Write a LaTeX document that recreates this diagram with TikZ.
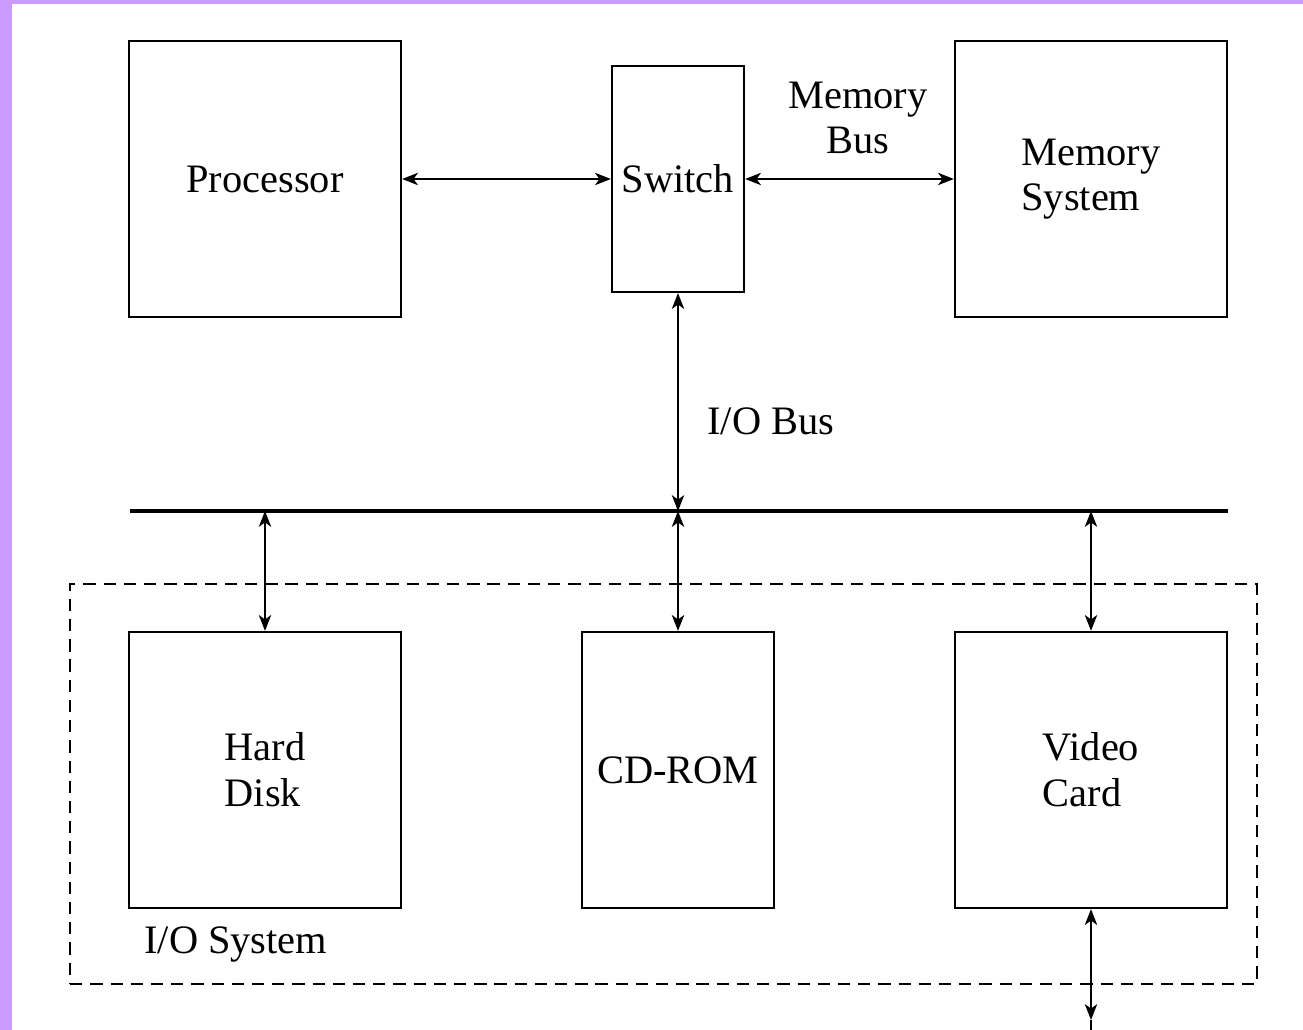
\documentclass[tikz,border=0pt]{standalone}
\usepackage{fontspec}
\setmainfont{Liberation Serif}
\usetikzlibrary{arrows.meta}
\definecolor{frame}{HTML}{CC99FF}
\begin{document}
\begin{tikzpicture}[x=0.02cm,y=-0.02cm,
  every node/.style={font=\fontsize{23}{26}\selectfont},
  blk/.style={draw,line width=1.3pt,inner sep=0pt,align=left},
  conn/.style={line width=1.2pt,{Stealth[length=9pt,width=7pt,inset=2.5pt]}-{Stealth[length=9pt,width=7pt,inset=2.5pt]}},
  lbl/.style={inner sep=0pt,align=center}]
\useasboundingbox (0,0) rectangle (1303,1030);
\fill[white] (0,0) rectangle (1303,1030);
\fill[frame] (0,0) rectangle (12,1030);
\fill[frame] (0,0) rectangle (1303,4);
% top row
\node[blk,minimum width=5.44cm,minimum height=5.52cm] (proc) at (265,179) {Processor};
\node[blk,minimum width=2.64cm,minimum height=4.52cm] (sw) at (678,179) {Switch};
\node[blk,minimum width=5.44cm,minimum height=5.52cm] (mem) at (1091,179) {Memory\\System};
\draw[conn] (proc.east) -- (sw.west);
\draw[conn] (sw.east) -- (mem.west);
\node[lbl] (mbus) at (858,118) {Memory\\Bus};
% bus
\coordinate (busL) at (130,511);
\coordinate (busR) at (1228,511);
\coordinate (b1) at (265,511);
\coordinate (b2) at (678,511);
\coordinate (b3) at (1091,511);
\draw[line width=2.8pt] (busL) -- (busR);
\draw[conn] (sw.south) -- (b2);
\node[lbl,anchor=west] (iobus) at (707,421) {I/O Bus};
% I/O system
\node[draw,dashed,line width=1.2pt,dash pattern=on 7pt off 4.5pt,minimum width=23.74cm,minimum height=8cm,inner sep=0pt] (iosys) at (663.5,784) {};
\node[blk,minimum width=5.44cm,minimum height=5.52cm] (hd) at (265,770) {Hard\\Disk};
\node[blk,minimum width=3.84cm,minimum height=5.52cm] (cd) at (678,770) {CD-ROM};
\node[blk,minimum width=5.44cm,minimum height=5.52cm] (vc) at (1091,770) {Video\\Card};
\draw[conn] (b1) -- (hd.north);
\draw[conn] (b2) -- (cd.north);
\draw[conn] (b3) -- (vc.north);
\coordinate (out) at (1091,1020);
\coordinate (outend) at (1091,1030);
\draw[conn] (vc.south) -- (out);
\draw[line width=1.2pt] (out) -- (outend);
\node[lbl,anchor=west] (iolbl) at (144,944) {I/O System};
\end{tikzpicture}
\end{document}
